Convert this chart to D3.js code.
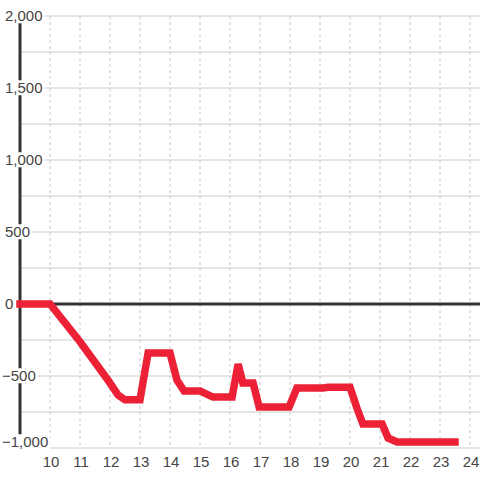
<!DOCTYPE html>
<html lang="en">
<head>
    <meta charset="UTF-8">
    <title>Line chart</title>
    <script src="https://d3js.org/d3.v7.min.js"></script>
    <style>
        body { margin: 0; background: #fff; }
        text { font-family: "Liberation Sans", Arial, sans-serif; font-size: 15px; fill: #444; }
    </style>
</head>
<body>
    <svg width="480" height="480"></svg>

    <script>
        // hour of day and value
        const hours = [9, 10, 11, 11.93, 12.27, 12.5, 13.0, 13.27, 14.0, 14.23, 14.47, 15.0, 15.43, 16.07,
            16.27, 16.43, 16.77, 16.97, 17.97, 18.23, 19.1, 19.27, 20.0, 20.23, 20.43, 21.07, 21.27, 21.57, 23.5];
        const values = [0, 0, -262, -528, -632, -665, -665, -340, -340, -528, -604, -604, -646, -646,
            -417, -549, -549, -715, -715, -583, -583, -578, -578, -722, -833, -833, -931, -958, -958];

        const yTicks = [-1000, -750, -500, -250, 250, 500, 750, 1000, 1250, 1500, 1750, 2000];
        const yLabels = [-1000, -500, 0, 500, 1000, 1500, 2000];
        const xTicks = [10, 11, 12, 13, 14, 15, 16, 17, 18, 19, 20, 21, 22, 23, 24];

        const svg = d3.select("svg");
        const x = d3.scaleLinear().domain([9, 24.333]).range([20, 480]);
        const y = d3.scaleLinear().domain([-1000, 2000]).range([448, 16]);
        const fmt = d3.format(",");

        // vertical dashed grid
        svg.append("g").selectAll("line")
            .data(xTicks)
            .enter().append("line")
            .attr("x1", d => x(d)).attr("x2", d => x(d))
            .attr("y1", y(2000)).attr("y2", y(-1000))
            .attr("stroke", "#c8c8c8")
            .attr("stroke-dasharray", "3,3");

        // horizontal grid
        svg.append("g").selectAll("line")
            .data(yTicks)
            .enter().append("line")
            .attr("x1", 20).attr("x2", 480)
            .attr("y1", d => y(d)).attr("y2", d => y(d))
            .attr("stroke", "#cccccc");

        // zero line
        svg.append("line")
            .attr("x1", 20).attr("x2", 480)
            .attr("y1", y(0)).attr("y2", y(0))
            .attr("stroke", "#333").attr("stroke-width", 3);

        // y axis line
        svg.append("line")
            .attr("x1", 20).attr("x2", 20)
            .attr("y1", y(2000)).attr("y2", y(-1000))
            .attr("stroke", "#333").attr("stroke-width", 3);

        // data line
        const line = d3.line()
            .x((d, i) => x(hours[i]))
            .y(d => y(d));

        svg.append("path")
            .datum(values)
            .attr("d", line)
            .attr("fill", "none")
            .attr("stroke", "#ec2136")
            .attr("stroke-width", 7.5)
            .attr("stroke-linecap", "square")
            .attr("stroke-linejoin", "miter");

        // y labels with white backgrounds
        const yl = svg.append("g").selectAll("g")
            .data(yLabels)
            .enter().append("g")
            .attr("transform", d => `translate(${d < 0 ? 2 : 5},${Math.min(y(d), 442)})`);
        yl.append("text")
            .attr("text-anchor", "start")
            .attr("dy", "0.35em")
            .text(d => fmt(d));
        yl.each(function () {
            const b = d3.select(this).select("text").node().getBBox();
            d3.select(this).insert("rect", "text")
                .attr("x", b.x - 1).attr("y", b.y + 1)
                .attr("width", b.width + 3).attr("height", b.height - 2)
                .attr("fill", "#fff");
        });

        // x labels
        svg.append("g").selectAll("text")
            .data(xTicks)
            .enter().append("text")
            .attr("x", d => x(d) + 1)
            .attr("y", 462)
            .attr("dy", "0.35em")
            .attr("text-anchor", "middle")
            .text(d => d);
    </script>
</body>
</html>
